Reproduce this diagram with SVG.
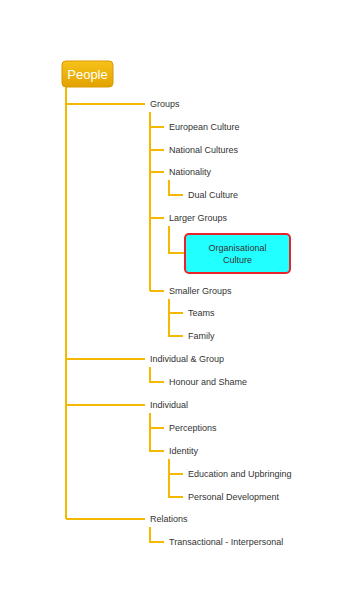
<svg xmlns="http://www.w3.org/2000/svg" width="361" height="610" viewBox="0 0 361 610">
<defs>
<linearGradient id="gold" x1="0" y1="0" x2="0" y2="1">
<stop offset="0" stop-color="#f7c21a"/>
<stop offset="1" stop-color="#e2a200"/>
</linearGradient>
</defs>
<style>
.c{fill:none;stroke:#f5b800;stroke-width:2}
.t{font-family:"Liberation Sans",Arial,sans-serif;font-size:9px;fill:#333}
.root{font-family:"Liberation Sans",Arial,sans-serif;font-size:13px;fill:#fff}
</style>
<rect width="361" height="610" fill="#fff"/>
<g id="connectors">
<path class="c" d="M66 87V519M66 104H145M66 359H145M66 405H145M66 519H145"/>
<path class="c" d="M150 112V291M150 127H164M150 150H164M150 172H164M150 218H164M150 291H164"/>
<path class="c" d="M169 180V195H183"/>
<path class="c" d="M169 226V253H185"/>
<path class="c" d="M169 299V336H183M169 313H183"/>
<path class="c" d="M150 367V382H164"/>
<path class="c" d="M150 413V451H164M150 428H164"/>
<path class="c" d="M169 459V497H183M169 474H183"/>
<path class="c" d="M150 527V542H164"/>
</g>
<g id="people">
<rect x="62" y="61" width="51" height="26" rx="4" fill="url(#gold)" stroke="#d99a00" stroke-width="1"/>
<text class="root" x="87.5" y="79" text-anchor="middle">People</text>
</g>
<g id="groups"><text class="t" x="150" y="107">Groups</text></g>
<g id="european"><text class="t" x="169" y="130">European Culture</text></g>
<g id="national"><text class="t" x="169" y="153">National Cultures</text></g>
<g id="nationality"><text class="t" x="169" y="175">Nationality</text></g>
<g id="dual"><text class="t" x="188" y="198">Dual Culture</text></g>
<g id="larger"><text class="t" x="169" y="221">Larger Groups</text></g>
<g id="organisational">
<rect x="185" y="234" width="105" height="39" rx="4" fill="#22ffff" stroke="#e8232a" stroke-width="2"/>
<text class="t" x="237.5" y="251" text-anchor="middle">Organisational</text>
<text class="t" x="237.5" y="263" text-anchor="middle">Culture</text>
</g>
<g id="smaller"><text class="t" x="169" y="294">Smaller Groups</text></g>
<g id="teams"><text class="t" x="188" y="316">Teams</text></g>
<g id="family"><text class="t" x="188" y="339">Family</text></g>
<g id="indgroup"><text class="t" x="150" y="362">Individual &amp; Group</text></g>
<g id="honour"><text class="t" x="169" y="385">Honour and Shame</text></g>
<g id="individual"><text class="t" x="150" y="408">Individual</text></g>
<g id="perceptions"><text class="t" x="169" y="431">Perceptions</text></g>
<g id="identity"><text class="t" x="169" y="454">Identity</text></g>
<g id="education"><text class="t" x="188" y="477">Education and Upbringing</text></g>
<g id="personal"><text class="t" x="188" y="500">Personal Development</text></g>
<g id="relations"><text class="t" x="150" y="522">Relations</text></g>
<g id="transactional"><text class="t" x="169" y="545">Transactional - Interpersonal</text></g>
</svg>
